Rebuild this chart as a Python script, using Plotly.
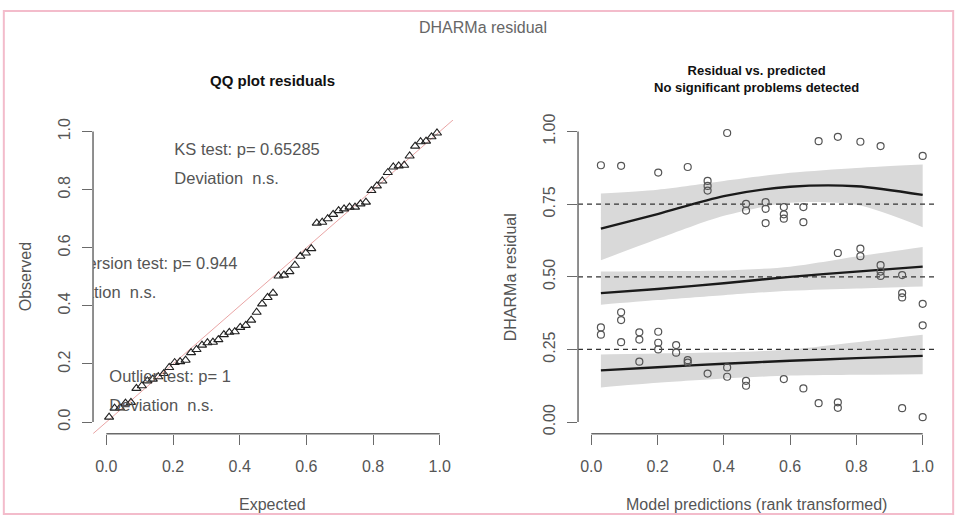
import numpy as np
import plotly.graph_objects as go

# Rank-transformed model predictions and scaled (DHARMa) residuals
pred_rank = [
    0.029, 0.029, 0.029,
    0.090, 0.090, 0.090, 0.090,
    0.145, 0.145, 0.145,
    0.202, 0.202, 0.202, 0.202,
    0.256, 0.256,
    0.291, 0.291, 0.291,
    0.351, 0.351, 0.351, 0.351,
    0.410, 0.410, 0.410,
    0.467, 0.467, 0.467, 0.467,
    0.526, 0.526, 0.526,
    0.581, 0.581, 0.581, 0.581,
    0.640, 0.640, 0.640,
    0.686, 0.686,
    0.744, 0.744, 0.744, 0.744,
    0.812, 0.812, 0.812,
    0.873, 0.873, 0.873, 0.873,
    0.938, 0.938, 0.938, 0.938,
    1.000, 1.000, 1.000, 1.000,
]
residual = [
    0.884, 0.326, 0.301,
    0.882, 0.378, 0.351, 0.275,
    0.309, 0.284, 0.208,
    0.859, 0.311, 0.273, 0.250,
    0.265, 0.239,
    0.878, 0.213, 0.205,
    0.830, 0.813, 0.797, 0.167,
    0.995, 0.188, 0.156,
    0.751, 0.728, 0.142, 0.125,
    0.757, 0.734, 0.685,
    0.740, 0.715, 0.700, 0.148,
    0.740, 0.688, 0.116,
    0.967, 0.065,
    0.982, 0.582, 0.068, 0.049,
    0.965, 0.597, 0.571,
    0.950, 0.540, 0.518, 0.503,
    0.506, 0.444, 0.429, 0.048,
    0.916, 0.407, 0.333, 0.017,
]

# Quantile regression fits (0.25 / 0.5 / 0.75) with confidence bands
fit_x = [0.029, 0.2, 0.4, 0.6, 0.8, 1.0]
q75_fit = [0.666, 0.716, 0.778, 0.810, 0.812, 0.782]
q75_hi = [0.787, 0.800, 0.830, 0.858, 0.875, 0.887]
q75_lo = [0.557, 0.630, 0.710, 0.755, 0.748, 0.671]
q50_fit = [0.444, 0.458, 0.478, 0.500, 0.518, 0.535]
q50_hi = [0.518, 0.520, 0.522, 0.535, 0.570, 0.603]
q50_lo = [0.404, 0.420, 0.437, 0.452, 0.460, 0.467]
q25_fit = [0.178, 0.189, 0.201, 0.211, 0.220, 0.228]
q25_hi = [0.233, 0.236, 0.240, 0.250, 0.275, 0.301]
q25_lo = [0.119, 0.135, 0.150, 0.160, 0.163, 0.165]
quantiles = [0.25, 0.5, 0.75]

tick01 = [0, 0.2, 0.4, 0.6, 0.8, 1.0]
tick01_text = ["0.0", "0.2", "0.4", "0.6", "0.8", "1.0"]
tick_q = [0, 0.25, 0.5, 0.75, 1.0]
tick_q_text = ["0.00", "0.25", "0.50", "0.75", "1.00"]

# QQ plot: sorted residuals against uniform expected quantiles
observed = np.sort(np.array(residual))
n = len(observed)
expected = (np.arange(1, n + 1) - 0.5) / n

FONT = "Liberation Sans, Arial, sans-serif"
GREY = "#555555"
AXIS = "#6a6a6a"
RNG = [-0.04, 1.04]

fig = go.Figure()

# ---- left panel: QQ plot ----
fig.add_trace(go.Scatter(x=RNG, y=RNG, mode="lines",
                         line=dict(color="rgba(215,90,90,0.55)", width=1),
                         xaxis="x", yaxis="y", hoverinfo="skip"))
fig.add_trace(go.Scatter(x=expected, y=observed, mode="markers",
                         marker=dict(symbol="triangle-up-open", size=8,
                                     color="#222222", line=dict(width=1.1)),
                         xaxis="x", yaxis="y"))

def panel_text(x, y, txt, pos):
    fig.add_trace(go.Scatter(x=[x], y=[y], mode="text", text=[txt],
                             textposition=pos, cliponaxis=True,
                             textfont=dict(family=FONT, size=16.5, color=GREY),
                             xaxis="x", yaxis="y", hoverinfo="skip"))

panel_text(0.204, 0.932, "KS test: p= 0.65285", "middle right")
panel_text(0.204, 0.832, "Deviation  n.s.", "middle right")
panel_text(0.393, 0.541, "Dispersion test: p= 0.944", "middle left")
panel_text(0.150, 0.442, "Deviation  n.s.", "middle left")
panel_text(0.009, 0.151, "Outlier test: p= 1", "middle right")
panel_text(0.009, 0.051, "Deviation  n.s.", "middle right")

# ---- right panel: residual vs predicted ----
bands = [(q25_lo, q25_hi), (q50_lo, q50_hi), (q75_lo, q75_hi)]
for lo, hi in bands:
    fig.add_trace(go.Scatter(x=fit_x, y=lo, mode="lines",
                             line=dict(width=0, shape="spline", smoothing=0.8),
                             xaxis="x2", yaxis="y2", hoverinfo="skip"))
    fig.add_trace(go.Scatter(x=fit_x, y=hi, mode="lines",
                             fill="tonexty", fillcolor="#d9d9d9",
                             line=dict(width=0, shape="spline", smoothing=0.8),
                             xaxis="x2", yaxis="y2", hoverinfo="skip"))
for q in quantiles:
    fig.add_trace(go.Scatter(x=RNG, y=[q, q], mode="lines",
                             line=dict(color="#333333", width=1.3, dash="5px,4px"),
                             xaxis="x2", yaxis="y2", hoverinfo="skip"))
for fit in (q25_fit, q50_fit, q75_fit):
    fig.add_trace(go.Scatter(x=fit_x, y=fit, mode="lines",
                             line=dict(color="#1a1a1a", width=2.4,
                                       shape="spline", smoothing=0.8),
                             xaxis="x2", yaxis="y2", hoverinfo="skip"))
fig.add_trace(go.Scatter(x=pred_rank, y=residual, mode="markers",
                         marker=dict(symbol="circle-open", size=7,
                                     color="#555555", line=dict(width=1.2)),
                         xaxis="x2", yaxis="y2"))

# ---- axes ----
def xaxis_cfg(domain, vals, text):
    return dict(domain=domain, range=RNG, showgrid=False, zeroline=False,
                showline=False, ticks="outside", ticklen=10, tickwidth=1.3,
                tickcolor=AXIS, tickvals=vals, ticktext=text,
                tickfont=dict(family=FONT, size=16, color=GREY),
                ticklabelstandoff=8)

def yaxis_cfg(domain, vals, text, anchor):
    return dict(domain=domain, range=RNG, showgrid=False, zeroline=False,
                showline=False, ticks="outside", ticklen=10, tickwidth=1.3,
                tickcolor=AXIS, tickvals=vals, ticktext=text, tickangle=-90,
                tickfont=dict(family=FONT, size=16, color=GREY),
                ticklabelstandoff=6, anchor=anchor)

ydom = [0.163, 0.777]
fig.update_layout(
    width=957, height=518, autosize=False,
    margin=dict(l=0, r=0, t=0, b=0),
    paper_bgcolor="white", plot_bgcolor="white",
    showlegend=False,
    xaxis=dict(xaxis_cfg([0.0972, 0.4734], tick01, tick01_text), anchor="y"),
    yaxis=yaxis_cfg(ydom, tick01, tick01_text, "x"),
    xaxis2=dict(xaxis_cfg([0.604, 0.978], tick01, tick01_text), anchor="y2"),
    yaxis2=yaxis_cfg(ydom, tick_q, tick_q_text, "x2"),
)

shapes = []
for xa, ya in (("x", "y"), ("x2", "y2")):
    shapes.append(dict(type="line", xref=xa, yref=ya + " domain",
                       x0=0, x1=1, y0=0, y1=0,
                       line=dict(color=AXIS, width=1.5)))
    shapes.append(dict(type="line", xref=xa + " domain", yref=ya,
                       x0=0, x1=0, y0=0, y1=1,
                       line=dict(color=AXIS, width=1.5)))
# outer frame
shapes.append(dict(type="rect", xref="paper", yref="paper",
                   x0=0.004, x1=0.996, y0=0.006, y1=0.99,
                   line=dict(color="#f3bccb", width=2)))
fig.update_layout(shapes=shapes)

annotations = [
    dict(text="DHARMa residual", x=483 / 957, y=1 - 22 / 518,
         font=dict(family=FONT, size=16, color="#666666")),
    dict(text="<b>QQ plot residuals</b>", x=272 / 957, y=1 - 76 / 518,
         font=dict(family=FONT, size=15, color="#111111")),
    dict(text="<b>Residual vs. predicted</b><br><b>No significant problems detected</b>",
         x=756 / 957, y=1 - 74 / 518,
         font=dict(family=FONT, size=13, color="#111111")),
    dict(text="Expected", x=272 / 957, y=1 - 505 / 518,
         font=dict(family=FONT, size=16, color=GREY)),
    dict(text="Model predictions (rank transformed)", x=756 / 957, y=1 - 505 / 518,
         font=dict(family=FONT, size=16, color=GREY)),
    dict(text="Observed", x=25 / 957, y=1 - 275 / 518, textangle=-90,
         font=dict(family=FONT, size=16, color=GREY)),
    dict(text="DHARMa residual", x=510 / 957, y=1 - 275 / 518, textangle=-90,
         font=dict(family=FONT, size=16, color=GREY)),
]
for a in annotations:
    a.update(xref="paper", yref="paper", showarrow=False,
             xanchor="center", yanchor="middle")
fig.update_layout(annotations=annotations)

fig.write_html("out.html")
